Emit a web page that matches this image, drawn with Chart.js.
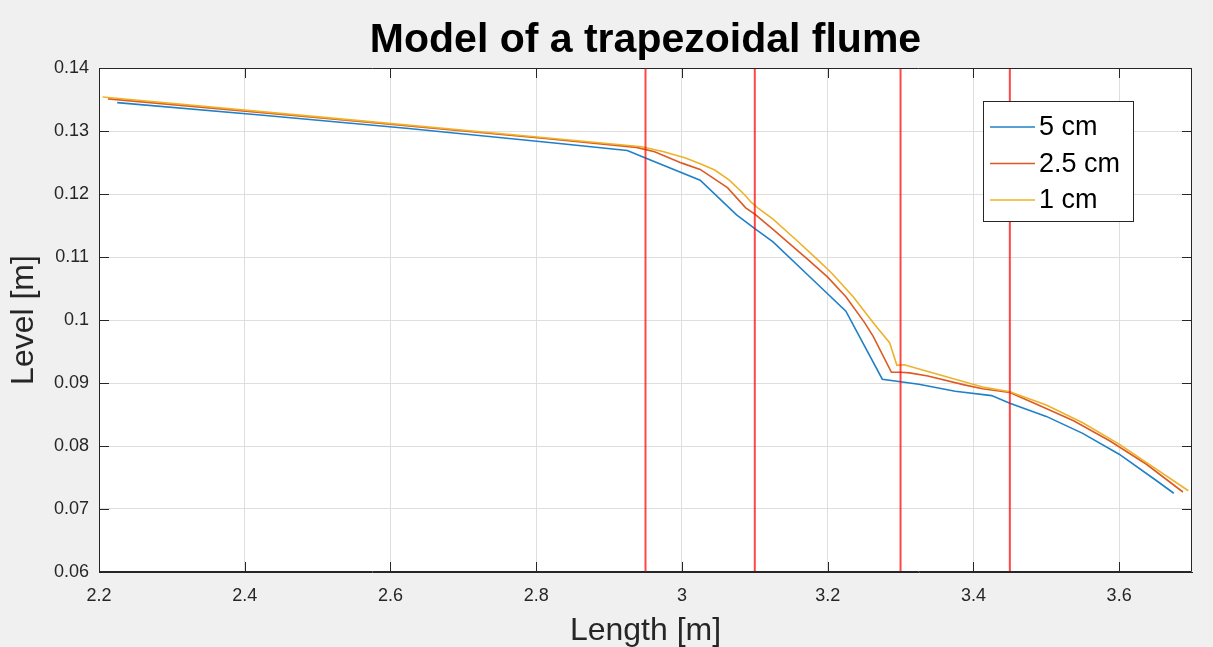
<!DOCTYPE html>
<html>
<head>
<meta charset="utf-8">
<title>Model of a trapezoidal flume</title>
<script src="https://cdn.jsdelivr.net/npm/chart.js@4.4.1/dist/chart.umd.min.js"></script>
<style>
  html, body { margin: 0; padding: 0; background: #f0f0f0; }
</style>
</head>
<body>
<canvas id="flumeChart" width="1213" height="647"></canvas>
<script>
// grid resolution 5 cm
const blueX = [2.225, 2.425, 2.625, 2.825, 2.925, 2.95, 3.025, 3.075, 3.1, 3.125, 3.175, 3.225, 3.275, 3.3, 3.325, 3.375, 3.425, 3.45, 3.5, 3.55, 3.6, 3.65, 3.675];
const blueY = [0.1345, 0.1325, 0.1304, 0.1281, 0.1269, 0.1257, 0.1222, 0.1167, 0.1145, 0.1124, 0.1069, 0.1014, 0.0906, 0.0902, 0.0898, 0.0887, 0.0880, 0.0868, 0.0847, 0.0820, 0.0787, 0.0746, 0.0725];

// grid resolution 2.5 cm
const orangeX = [2.2125, 2.5125, 2.8125, 2.9375, 2.9625, 3.0, 3.025, 3.0625, 3.0875, 3.1, 3.125, 3.15, 3.175, 3.2, 3.225, 3.25, 3.2625, 3.2875, 3.3, 3.3125, 3.3375, 3.3875, 3.4125, 3.45, 3.4875, 3.5375, 3.5875, 3.6375, 3.6875];
const orangeY = [0.1351, 0.1320, 0.1288, 0.1274, 0.1267, 0.1249, 0.1239, 0.1210, 0.1178, 0.1168, 0.1144, 0.1119, 0.1094, 0.1068, 0.1037, 0.0997, 0.0974, 0.0917, 0.0917, 0.0916, 0.0911, 0.0897, 0.0891, 0.0885, 0.0866, 0.0840, 0.0808, 0.0771, 0.0727];

// grid resolution 1 cm
const yellowX = [2.205, 2.505, 2.805, 2.945, 2.975, 3.005, 3.025, 3.045, 3.065, 3.085, 3.095, 3.105, 3.125, 3.155, 3.185, 3.205, 3.235, 3.265, 3.285, 3.295, 3.305, 3.335, 3.375, 3.415, 3.45, 3.5, 3.55, 3.6, 3.65, 3.695];
const yellowY = [0.1354, 0.1322, 0.1290, 0.1275, 0.1267, 0.1257, 0.1248, 0.1238, 0.1222, 0.1200, 0.1187, 0.1177, 0.1160, 0.1129, 0.1097, 0.1075, 0.1037, 0.0992, 0.0964, 0.0928, 0.0929, 0.0919, 0.0906, 0.0893, 0.0886, 0.0865, 0.0837, 0.0803, 0.0764, 0.0729];

const seriesNames = ["5 cm", "2.5 cm", "1 cm"];
const seriesColors = ["#1f80c8", "#dc5a24", "#eeb22a"];

// section boundaries (red lines)
const boundaryX = [2.95, 3.1, 3.3, 3.45];

const xRange = [2.2, 3.7];
const yRange = [0.06, 0.14];
const xTicks = [2.2, 2.4, 2.6, 2.8, 3, 3.2, 3.4, 3.6];
const yTicks = [0.06, 0.07, 0.08, 0.09, 0.1, 0.11, 0.12, 0.13, 0.14];

const FONT = '"Liberation Sans", Arial, Helvetica, sans-serif';
const AXIS = "#262626";

function pts(xs, ys) {
  return xs.map((x, i) => ({ x: x, y: ys[i] }));
}

const datasets = [
  { label: seriesNames[0], data: pts(blueX, blueY), borderColor: seriesColors[0], order: 3 },
  { label: seriesNames[1], data: pts(orangeX, orangeY), borderColor: seriesColors[1], order: 2 },
  { label: seriesNames[2], data: pts(yellowX, yellowY), borderColor: seriesColors[2], order: 1 }
].map(d => Object.assign(d, { borderWidth: 1.6, pointRadius: 0, fill: false, tension: 0 }));

boundaryX.forEach(x => {
  datasets.push({
    label: "",
    data: [{ x: x, y: yRange[0] }, { x: x, y: yRange[1] }],
    borderColor: "rgba(255, 0, 0, 0.72)",
    borderWidth: 2,
    pointRadius: 0,
    order: 0
  });
});

// background, title, box, inner tick marks and legend
const matlabLook = {
  id: "matlabLook",
  beforeDraw(chart) {
    const { ctx, chartArea: a } = chart;
    ctx.save();
    ctx.fillStyle = "#f0f0f0";
    ctx.fillRect(0, 0, chart.width, chart.height);
    ctx.fillStyle = "#ffffff";
    ctx.fillRect(a.left, a.top, a.right - a.left, a.bottom - a.top);
    ctx.fillStyle = "#000000";
    ctx.font = "bold 41px " + FONT;
    ctx.textAlign = "center";
    ctx.textBaseline = "alphabetic";
    ctx.fillText("Model of a trapezoidal flume", (a.left + a.right) / 2, 52);
    ctx.restore();
  },
  afterDatasetsDraw(chart) {
    const { ctx, chartArea: a, scales } = chart;
    ctx.save();
    ctx.strokeStyle = AXIS;
    ctx.lineWidth = 1;
    ctx.beginPath();
    ctx.rect(a.left + 0.5, a.top + 0.5, a.right - a.left - 1, a.bottom - a.top - 1);
    const len = 10;
    scales.x.ticks.forEach(t => {
      const px = Math.round(scales.x.getPixelForValue(t.value)) + 0.5;
      ctx.moveTo(px, a.bottom); ctx.lineTo(px, a.bottom - len);
      ctx.moveTo(px, a.top); ctx.lineTo(px, a.top + len);
    });
    scales.y.ticks.forEach(t => {
      const py = Math.round(scales.y.getPixelForValue(t.value)) + 0.5;
      ctx.moveTo(a.left, py); ctx.lineTo(a.left + len, py);
      ctx.moveTo(a.right, py); ctx.lineTo(a.right - len, py);
    });
    ctx.stroke();

    // legend
    const box = { x: 983.5, y: 101.5, w: 150, h: 120 };
    ctx.fillStyle = "#ffffff";
    ctx.fillRect(box.x, box.y, box.w, box.h);
    ctx.strokeStyle = AXIS;
    ctx.strokeRect(box.x, box.y, box.w, box.h);
    ctx.font = "27px " + FONT;
    ctx.textAlign = "left";
    ctx.textBaseline = "middle";
    seriesNames.forEach((name, i) => {
      const y = 127 + i * 36.5;
      ctx.strokeStyle = seriesColors[i];
      ctx.lineWidth = 1.6;
      ctx.beginPath();
      ctx.moveTo(990, y); ctx.lineTo(1035, y);
      ctx.stroke();
      ctx.fillStyle = "#000000";
      ctx.fillText(name, 1039, y + 1);
    });
    ctx.restore();
  }
};

new Chart(document.getElementById("flumeChart"), {
  type: "line",
  data: { datasets: datasets },
  options: {
    responsive: false,
    animation: false,
    layout: { padding: { top: 68, right: 21, left: 0, bottom: 0 } },
    plugins: {
      legend: { display: false },
      title: { display: false },
      tooltip: { enabled: false }
    },
    scales: {
      x: {
        type: "linear",
        min: xRange[0],
        max: xRange[1],
        afterBuildTicks: s => { s.ticks = xTicks.map(v => ({ value: v })); },
        afterFit: s => { s.height = 75; },
        grid: { color: "#dedede", drawTicks: false },
        border: { color: AXIS },
        ticks: {
          color: AXIS,
          font: { family: FONT, size: 18 },
          padding: 13,
          maxRotation: 0,
          autoSkip: false,
          callback: v => String(v)
        },
        title: {
          display: true,
          text: "Length [m]",
          color: AXIS,
          font: { family: FONT, size: 32, lineHeight: 1 },
          padding: 0
        }
      },
      y: {
        type: "linear",
        min: yRange[0],
        max: yRange[1],
        afterBuildTicks: s => { s.ticks = yTicks.map(v => ({ value: v })); },
        afterFit: s => { s.width = 99; },
        grid: { color: "#dedede", drawTicks: false },
        border: { color: AXIS },
        ticks: {
          color: AXIS,
          font: { family: FONT, size: 18 },
          padding: 10,
          autoSkip: false,
          callback: v => String(v)
        },
        title: {
          display: true,
          text: "Level [m]",
          color: AXIS,
          font: { family: FONT, size: 32, lineHeight: 1 },
          padding: { top: 8, bottom: 0 }
        }
      }
    }
  },
  plugins: [matlabLook]
});
</script>
</body>
</html>
